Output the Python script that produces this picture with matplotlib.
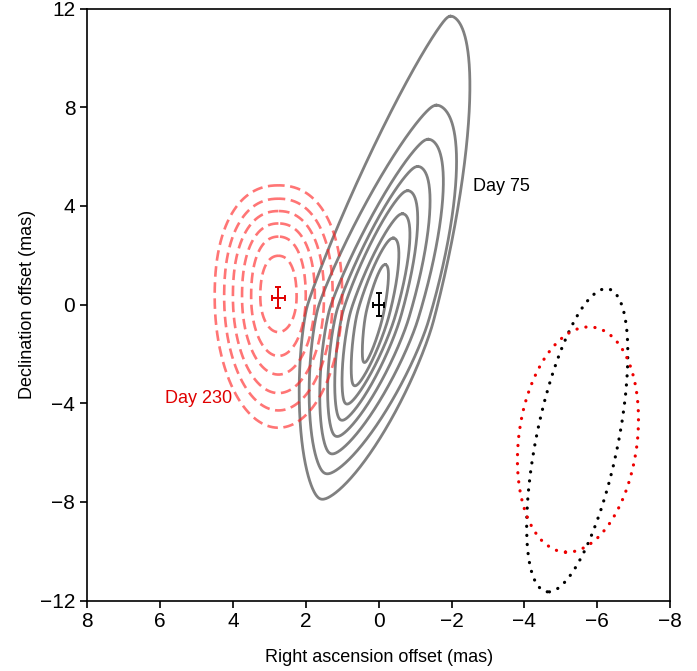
import numpy as np
import matplotlib.pyplot as plt
from matplotlib.patches import Ellipse

plt.rcParams['font.family'] = ['Liberation Sans', 'DejaVu Sans']
plt.rcParams['font.size'] = 13

# =========================
# DADOS (mas)
# =========================

# Day 75: contornos de dentro para fora
d75_topo_x = [-0.19, -0.41, -0.66, -0.80, -1.07, -1.35, -1.57, -1.95]
d75_topo_y = [1.70, 2.76, 3.74, 4.67, 5.65, 6.75, 8.13, 11.75]
d75_base_x = [0.41, 0.68, 0.90, 1.04, 1.18, 1.32, 1.46, 1.59]
d75_base_y = [-2.44, -3.37, -4.10, -4.75, -5.40, -6.10, -6.90, -7.93]
d75_meia_larg = [0.24, 0.44, 0.62, 0.80, 1.00, 1.23, 1.54, 1.76]
d75_y_largo = -0.4

# forma (expoentes de superelipse) por contorno
d75_n_sup_esq = [1.8, 1.7, 1.6, 1.55, 1.5, 1.45, 1.4, 1.3]
d75_n_sup_dir = [2.0, 2.0, 2.0, 2.0, 2.0, 2.0, 2.0, 1.9]

# Day 230
d230_x = 2.75
d230_topo_y = [2.00, 2.77, 3.30, 3.80, 4.30, 4.84]
d230_base_y = [-1.14, -2.10, -2.85, -3.60, -4.30, -5.00]
d230_meia_larg = [0.50, 0.75, 1.00, 1.25, 1.49, 1.75]
d230_y_largo = 0.3

# posicoes com erro
pos_x = [0.0, 2.75]
pos_y = [0.0, 0.28]
erro_x = [0.16, 0.17]
erro_y = [0.47, 0.43]

# feixes (centro x, centro y, eixo menor, eixo maior, angulo)
feixe_75 = (-5.45, -5.5, 2.26, 12.4, 7.6)
feixe_230 = (-5.47, -5.47, 3.26, 9.16, 4.3)

# =========================
# FUNCOES
# =========================

def suavizar(x, y, sigma_px=3.5, n=900):
    # reamostra por comprimento de arco (em pixels aprox.) e suaviza
    sx, sy = 36.4, 24.6
    px, py = x * sx, y * sy
    seg = np.hypot(np.diff(px), np.diff(py))
    s = np.concatenate([[0], np.cumsum(seg)])
    total = s[-1]
    si = np.linspace(0, total, n, endpoint=False)
    px, py = np.interp(si, s, px), np.interp(si, s, py)
    passo = total / n
    k = int(4 * sigma_px / passo) + 1
    j = np.arange(-k, k + 1)
    w = np.exp(-0.5 * (j * passo / sigma_px) ** 2)
    w /= w.sum()
    px = sum(w[i] * np.roll(px, j[i]) for i in range(len(j)))
    py = sum(w[i] * np.roll(py, j[i]) for i in range(len(j)))
    px, py = np.append(px, px[0]), np.append(py, py[0])
    return px / sx, py / sy


def contorno(topo, base, b, y_largo, n_ul, n_ur, n_dl, n_dr, npts=1500):
    T = np.array(topo, dtype=float)
    B = np.array(base, dtype=float)
    d = (T - B) / np.linalg.norm(T - B)
    p = np.array([d[1], -d[0]])
    C = B + d * (y_largo - B[1]) / d[1]
    a_up = np.linalg.norm(T - C)
    a_dn = np.linalg.norm(C - B)
    t = np.linspace(0, 2 * np.pi, npts)
    c, s = np.cos(t), np.sin(t)
    n = np.where(c >= 0, np.where(s >= 0, n_ul, n_ur), np.where(s >= 0, n_dl, n_dr))
    a = np.where(c >= 0, a_up, a_dn)
    u = a * np.sign(c) * np.abs(c) ** (2 / n)
    v = b * np.sign(s) * np.abs(s) ** (2 / n)
    pts = C[None, :] + u[:, None] * d[None, :] + v[:, None] * p[None, :]
    return suavizar(pts[:, 0], pts[:, 1])

# =========================
# FIGURA
# =========================

fig = plt.figure(figsize=(6.97, 6.71), dpi=100)
ax = fig.add_axes([0.125, 0.105, 0.8365, 0.882])

for i in range(len(d75_topo_y)):
    x, y = contorno((d75_topo_x[i], d75_topo_y[i]), (d75_base_x[i], d75_base_y[i]),
                    d75_meia_larg[i], d75_y_largo,
                    d75_n_sup_esq[i], d75_n_sup_dir[i], 1.45, 1.6)
    ax.plot(x, y, color="#808080", lw=2.0, zorder=2)

for i in range(len(d230_topo_y)):
    x, y = contorno((d230_x, d230_topo_y[i]), (d230_x, d230_base_y[i]),
                    d230_meia_larg[i], d230_y_largo, 2.3, 2.3, 2.0, 2.0)
    ax.plot(x, y, color="#ff2020", alpha=0.62, lw=1.9, ls=(0, (4, 2.1)), zorder=3)

for cor, f in [("black", feixe_75), ("#ee0000", feixe_230)]:
    e = Ellipse((f[0], f[1]), f[2], f[3], angle=f[4], fill=False, edgecolor=cor,
                lw=2.3, ls=(0, (0.05, 2.8)), capstyle="round")
    ax.add_patch(e)

ax.errorbar(pos_x[0], pos_y[0], xerr=erro_x[0], yerr=erro_y[0], color="black",
            lw=1.4, capsize=2.5, capthick=1.4, zorder=5)
ax.errorbar(pos_x[1], pos_y[1], xerr=erro_x[1], yerr=erro_y[1], color="#e00000",
            lw=1.4, capsize=2.5, capthick=1.4, zorder=5)

ax.text(-2.6, 4.8, "Day 75", color="black", ha="left", va="center", fontsize=13)
ax.text(5.85, -3.8, "Day 230", color="#e00000", ha="left", va="center", fontsize=13)

ax.set_xlim(8, -8)
ax.set_ylim(-12, 12)
ax.set_xticks(np.arange(8, -9, -2))
ax.set_yticks(np.arange(-12, 13, 4))
ax.tick_params(direction="out", length=5, width=1.2, labelsize=15)
for sp in ax.spines.values():
    sp.set_linewidth(1.2)

ax.set_xlabel("Right ascension offset (mas)", fontsize=13, labelpad=13)
ax.set_ylabel("Declination offset (mas)", fontsize=13, labelpad=3)

plt.savefig("out.png", dpi=100)
